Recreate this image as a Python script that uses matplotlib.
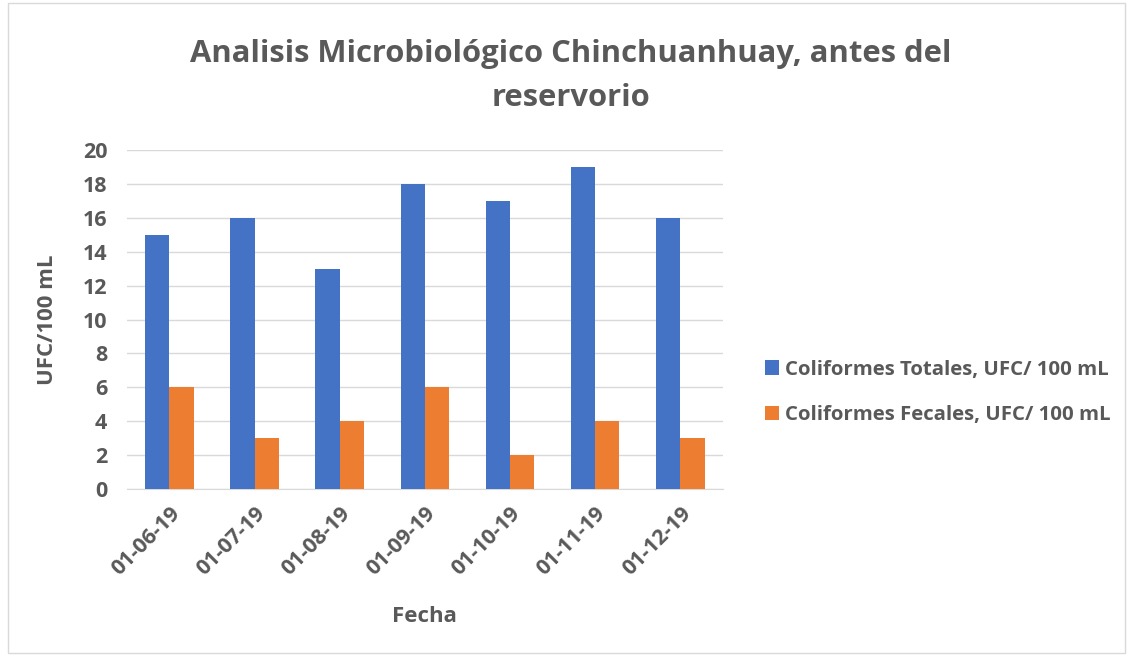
import matplotlib.pyplot as plt
import numpy as np
from matplotlib.patches import Rectangle

plt.rcParams['font.family'] = ['Open Sans', 'DejaVu Sans']

fechas = ["01-06-19", "01-07-19", "01-08-19", "01-09-19", "01-10-19", "01-11-19", "01-12-19"]
totales = [15, 16, 13, 18, 17, 19, 16]
fecales = [6, 3, 4, 6, 2, 4, 3]

blue = '#4472C4'
orange = '#ED7D31'
gray = '#595959'

fig = plt.figure(figsize=(11.33, 6.56), dpi=100)
# light frame around the chart
fig.patches.append(Rectangle((0.007, 0.005), 0.986, 0.99, transform=fig.transFigure,
                             fill=False, edgecolor='#D9D9D9', linewidth=1))
ax = fig.add_axes([0.112, 0.2546, 0.526, 0.5167])

x = np.arange(len(fechas))
w = 0.285
ax.bar(x - w / 2, totales, w, color=blue, label='Coliformes Totales, UFC/ 100 mL', zorder=3)
ax.bar(x + w / 2, fecales, w, color=orange, label='Coliformes Fecales, UFC/ 100 mL', zorder=3)

ax.set_xlim(-0.5, len(fechas) - 0.5)
ax.set_ylim(0, 20)
ax.set_yticks(range(0, 21, 2))
ax.grid(axis='y', color='#D9D9D9', linewidth=1, zorder=0)
for s in ['top', 'right', 'left']:
    ax.spines[s].set_visible(False)
ax.spines['bottom'].set_color('#D9D9D9')
ax.tick_params(length=0, labelsize=15.5, labelcolor=gray)
ax.tick_params(axis='y', pad=14)
ax.tick_params(axis='x', pad=10)
ax.set_xticks(x)
ax.set_xticklabels(fechas, rotation=45, ha='right', rotation_mode='anchor', fontweight='bold')
for lbl in ax.get_yticklabels():
    lbl.set_fontweight('bold')

ax.set_ylabel('UFC/100 mL', fontsize=16, fontweight='bold', color=gray, labelpad=18)
ax.set_xlabel('Fecha', fontsize=16, fontweight='bold', color=gray, labelpad=19)

fig.text(0.504, 0.884, 'Analisis Microbiológico Chinchuanhuay, antes del\nreservorio',
         ha='center', va='center', fontsize=22.3, fontweight='bold', color=gray, linespacing=1.6)

leg = ax.legend(loc='center left', bbox_to_anchor=(1.04, 0.285), frameon=False,
                fontsize=14.7, handlelength=0.7, handleheight=0.7, labelspacing=1.25,
                handletextpad=0.3)
for t in leg.get_texts():
    t.set_color(gray)
    t.set_fontweight('bold')

fig.savefig('out.png', dpi=100)
